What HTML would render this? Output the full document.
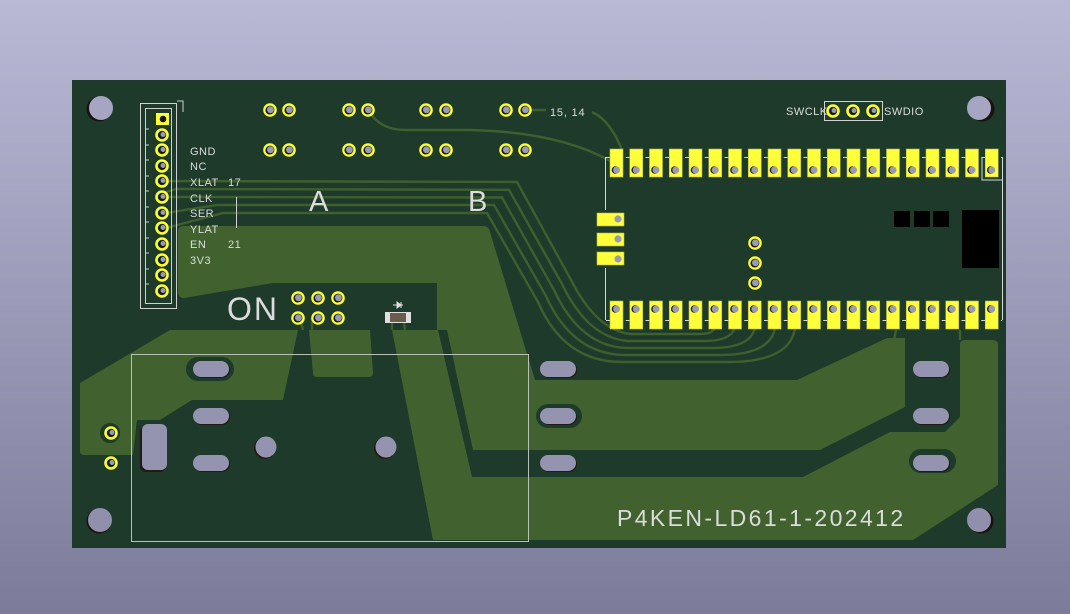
<!DOCTYPE html>
<html><head><meta charset="utf-8"><style>
html,body{margin:0;padding:0;width:1070px;height:614px;overflow:hidden}
svg{display:block}
text{font-family:"Liberation Sans",sans-serif;fill:#dcdcdc}
</style></head><body>
<svg width="1070" height="614" viewBox="0 0 1070 614" xmlns="http://www.w3.org/2000/svg">
<defs>
<linearGradient id="bg" x1="0" y1="0" x2="0" y2="1">
<stop offset="0" stop-color="#b9b9d6"/><stop offset="1" stop-color="#7c7c9a"/>
</linearGradient>
<g id="pt"><rect x="0" y="149" width="13" height="28" fill="#ffff3a" stroke="#b8b840" stroke-width="0.6"/><circle cx="5.5" cy="170" r="3.8" fill="#111"/><circle cx="6.5" cy="170" r="3.5" fill="#9a9ab4"/></g>
<g id="pb"><rect x="0" y="301" width="13" height="28" fill="#ffff3a" stroke="#b8b840" stroke-width="0.6"/><circle cx="5.5" cy="309" r="3.8" fill="#111"/><circle cx="6.5" cy="309" r="3.5" fill="#9a9ab4"/></g>
<g id="th"><circle cx="0" cy="0" r="5.6" fill="none" stroke="#ffff30" stroke-width="2.4"/><circle cx="-0.6" cy="0.6" r="3.8" fill="#111"/><circle cx="0.4" cy="-0.2" r="3.4" fill="#9a9ab4"/></g>
<g id="jp"><circle cx="0" cy="0" r="5.5" fill="none" stroke="#ffff30" stroke-width="2.6"/><circle cx="0" cy="0" r="3.4" fill="#151515"/><circle cx="1" cy="-0.5" r="2.5" fill="#9a9ab4"/></g>
<g id="ov"><rect x="1" y="-7" width="36" height="16" rx="8" fill="#241a14"/><rect x="0" y="-8" width="36" height="16" rx="8" fill="#9494b0"/></g>
</defs>
<rect width="1070" height="614" fill="url(#bg)"/>
<rect x="72" y="80" width="934" height="468" fill="#1d3a2a"/>

<g fill="#41622f">
<path d="M184,226 L483,226 Q489,226 490,232 L535,380 L797,380 L887,338 L905,338 L905,407 L820,450 L473,450 L447,330 L437,330 L437,283 L273,283 L184,298 Q178,298 178,292 L178,232 Q178,226 184,226Z"/>
<path d="M392,330 L438,330 L472,477 L803,477 L890,432 L945,432 L960,417 L960,345 Q960,340 965,340 L993,340 Q998,340 998,345 L998,485 L913,540 L433,540Z"/>
<path d="M80,383 L170,330 L298,330 L283,400 L192,400 L160,420 L137,420 L133,455 L84,455 Q80,455 80,451Z"/>
<path d="M309,330 L370,330 L373,373 Q373,377 369,377 L317,377 Q313,377 313,373Z"/>
</g>
<g fill="#1d3a2a">
<rect x="186" y="357" width="48" height="24" rx="12"/>
<rect x="536" y="404" width="46" height="24" rx="12"/>
<rect x="909" y="449" width="47" height="24" rx="12"/>
<circle cx="110" cy="433" r="10"/>
<rect x="136" y="420" width="36" height="54" rx="8"/>
</g>

<g fill="none" stroke="#3f5f2e" stroke-width="2.4">
<path d="M162,181 L517,182 L570,278 Q596,330 630,334 L700,334 Q712,334 715,328"/>
<path d="M166,192 L176,189 L509,189.8 L562,284 Q588,338 628,341 L705,341 Q730,341 735,328"/>
<path d="M166,197 L205,197 L502,197.5 L554,290 Q580,346 626,348 L712,348 Q750,348 755,328"/>
<path d="M166,213 L217,205 L494,205 L546,296 Q572,354 624,355 L720,355 Q770,355 775,328"/>
<path d="M166,228 L223,213 L487,213 L538,302 Q564,362 622,362 L728,362 Q790,362 795,328"/>
<path d="M368,110 Q380,130 405,130 L470,130 Q560,132 612,162"/>
<path d="M525,110 L546,110"/>
<path d="M592,112 Q610,120 622,150"/>
<path d="M300,318 L303,330 M312,318 L312,330 M392,322 L392,330 M404,322 L405,330"/>
<path d="M896,330 L894,340 M960,330 L960,340"/>
</g>

<g>
<circle cx="99" cy="109" r="12.5" fill="#1a120e"/><circle cx="101" cy="108" r="12" fill="#a6a6c2"/>
<circle cx="982" cy="109" r="12.5" fill="#1a120e"/><circle cx="979" cy="108" r="12" fill="#a6a6c2"/>
<circle cx="99" cy="521" r="12.5" fill="#1a120e"/><circle cx="100" cy="520" r="12" fill="#9090ac"/>
<circle cx="981" cy="521" r="12.5" fill="#1a120e"/><circle cx="979" cy="520" r="12" fill="#9090ac"/>
</g>

<use href="#ov" x="193" y="369"/><use href="#ov" x="193" y="416"/><use href="#ov" x="193" y="463"/>
<use href="#ov" x="540" y="369"/><use href="#ov" x="540" y="416"/><use href="#ov" x="540" y="463"/>
<use href="#ov" x="913" y="369"/><use href="#ov" x="913" y="416"/><use href="#ov" x="913" y="463"/>
<rect x="140" y="426" width="26" height="46" rx="6" fill="#241a14"/>
<rect x="142" y="424" width="25" height="46" rx="6" fill="#9494b0"/>
<circle cx="265" cy="448" r="11" fill="#241a14"/><circle cx="266" cy="447" r="10.5" fill="#9494b0"/>
<circle cx="385" cy="448" r="11" fill="#241a14"/><circle cx="386" cy="447" r="10.5" fill="#9494b0"/>
<use href="#jp" x="111" y="433"/><use href="#jp" x="111" y="463"/>

<rect x="131.5" y="354.5" width="397" height="187" fill="none" stroke="#b8c0b8" stroke-width="1"/>

<rect x="140.5" y="103.5" width="36" height="205" fill="none" stroke="#d0d0d0" stroke-width="1"/>
<rect x="145.5" y="108.5" width="26" height="195" fill="none" stroke="#d0d0d0" stroke-width="1"/>
<path d="M177,101 L183,101 L183,112" fill="none" stroke="#d0d0d0" stroke-width="1"/>
<g stroke="#d0d0d0" stroke-width="1"><path d="M146,129 L149,129 M146,145 L149,145 M146,160 L149,160 M146,176 L149,176 M146,191 L149,191 M146,207 L149,207 M146,222 L149,222 M146,238 L149,238 M146,253 L149,253 M146,269 L149,269 M146,284 L149,284"/></g>
<rect x="156" y="113" width="13" height="12" fill="#ffff30"/><circle cx="163" cy="119" r="3.3" fill="#151515"/>
<use href="#jp" x="162" y="135"/><use href="#jp" x="162" y="150"/><use href="#jp" x="162" y="166"/>
<use href="#jp" x="162" y="181"/><use href="#jp" x="162" y="197"/><use href="#jp" x="162" y="213"/>
<use href="#jp" x="162" y="228"/><use href="#jp" x="162" y="244"/><use href="#jp" x="162" y="260"/>
<use href="#jp" x="162" y="275"/><use href="#jp" x="162" y="291"/>
<g font-size="11" letter-spacing="0.5">
<text x="190" y="155">GND</text><text x="190" y="170">NC</text><text x="190" y="186">XLAT</text>
<text x="190" y="202">CLK</text><text x="190" y="217">SER</text><text x="190" y="233">YLAT</text>
<text x="190" y="248">EN</text><text x="190" y="264">3V3</text>
<text x="228" y="186">17</text><text x="228" y="248">21</text>
</g>
<path d="M236.5,197 L236.5,228" stroke="#d0d0d0" stroke-width="1"/>

<use href="#th" x="270" y="110"/><use href="#th" x="289" y="110"/>
<use href="#th" x="349" y="110"/><use href="#th" x="368" y="110"/>
<use href="#th" x="426" y="110"/><use href="#th" x="446" y="110"/>
<use href="#th" x="506" y="110"/><use href="#th" x="525" y="110"/>
<use href="#th" x="270" y="150"/><use href="#th" x="289" y="150"/>
<use href="#th" x="349" y="150"/><use href="#th" x="368" y="150"/>
<use href="#th" x="426" y="150"/><use href="#th" x="446" y="150"/>
<use href="#th" x="506" y="150"/><use href="#th" x="525" y="150"/>
<text x="550" y="116" font-size="11" letter-spacing="0.8">15, 14</text>

<text x="309" y="211" font-size="29">A</text>
<text x="468" y="211" font-size="29">B</text>
<text x="227" y="320" font-size="32" letter-spacing="2">ON</text>
<text x="617" y="526" font-size="23" letter-spacing="2.4">P4KEN-LD61-1-202412</text>

<use href="#th" x="298" y="298"/><use href="#th" x="318" y="298"/><use href="#th" x="338" y="298"/>
<use href="#th" x="298" y="318"/><use href="#th" x="318" y="318"/><use href="#th" x="338" y="318"/>
<rect x="385" y="312" width="26" height="11" fill="#e0e0e0"/>
<rect x="390" y="313" width="16" height="9" fill="#6a5d50"/>
<path d="M393,305 L403,305 M397,302 L397,308 L401,305Z M401,302 L401,308" stroke="#e0e0e0" stroke-width="1" fill="#e0e0e0"/>

<text x="786" y="115" font-size="11" letter-spacing="0.5">SWCLK</text>
<rect x="824.5" y="101.5" width="58" height="19" fill="none" stroke="#d0d0d0" stroke-width="1"/>
<use href="#jp" x="833" y="111"/><use href="#jp" x="853" y="111"/><use href="#jp" x="873" y="111"/>
<text x="884" y="115" font-size="11" letter-spacing="0.5">SWDIO</text>

<g stroke="#d8d8d8" stroke-width="1" fill="none">
<path d="M605.5,157 L605.5,210 M605.5,268 L605.5,320"/>
<path d="M1002.5,157 L1002.5,320"/>
<path d="M606,157.5 L1002,157.5 M606,320.5 L1002,320.5" stroke-dasharray="6,13.75"/>
<path d="M982,157 L982,180 L1002,180"/>
</g>
<use href="#pt" x="610"/><use href="#pt" x="629.75"/><use href="#pt" x="649.5"/><use href="#pt" x="669.25"/><use href="#pt" x="689"/>
<use href="#pt" x="708.75"/><use href="#pt" x="728.5"/><use href="#pt" x="748.25"/><use href="#pt" x="768"/><use href="#pt" x="787.75"/>
<use href="#pt" x="807.5"/><use href="#pt" x="827.25"/><use href="#pt" x="847"/><use href="#pt" x="866.75"/><use href="#pt" x="886.5"/>
<use href="#pt" x="906.25"/><use href="#pt" x="926"/><use href="#pt" x="945.75"/><use href="#pt" x="965.5"/><use href="#pt" x="985.25"/>
<use href="#pb" x="610"/><use href="#pb" x="629.75"/><use href="#pb" x="649.5"/><use href="#pb" x="669.25"/><use href="#pb" x="689"/>
<use href="#pb" x="708.75"/><use href="#pb" x="728.5"/><use href="#pb" x="748.25"/><use href="#pb" x="768"/><use href="#pb" x="787.75"/>
<use href="#pb" x="807.5"/><use href="#pb" x="827.25"/><use href="#pb" x="847"/><use href="#pb" x="866.75"/><use href="#pb" x="886.5"/>
<use href="#pb" x="906.25"/><use href="#pb" x="926"/><use href="#pb" x="945.75"/><use href="#pb" x="965.5"/><use href="#pb" x="985.25"/>
<g fill="#ffff3a" stroke="#b8b840" stroke-width="0.6">
<rect x="597" y="213" width="27" height="13"/><rect x="597" y="233" width="27" height="13"/><rect x="597" y="252" width="27" height="13"/>
</g>
<g fill="#9a9ab4"><circle cx="618" cy="219" r="3.6"/><circle cx="618" cy="239" r="3.6"/><circle cx="618" cy="259" r="3.6"/></g>
<use href="#th" x="755" y="243"/><use href="#th" x="755" y="263"/><use href="#th" x="755" y="283"/>
<g fill="#000"><rect x="894" y="211" width="16" height="16"/><rect x="914" y="211" width="16" height="16"/><rect x="933" y="211" width="16" height="16"/><rect x="962" y="210" width="37" height="58"/></g>
</svg>
</body></html>
